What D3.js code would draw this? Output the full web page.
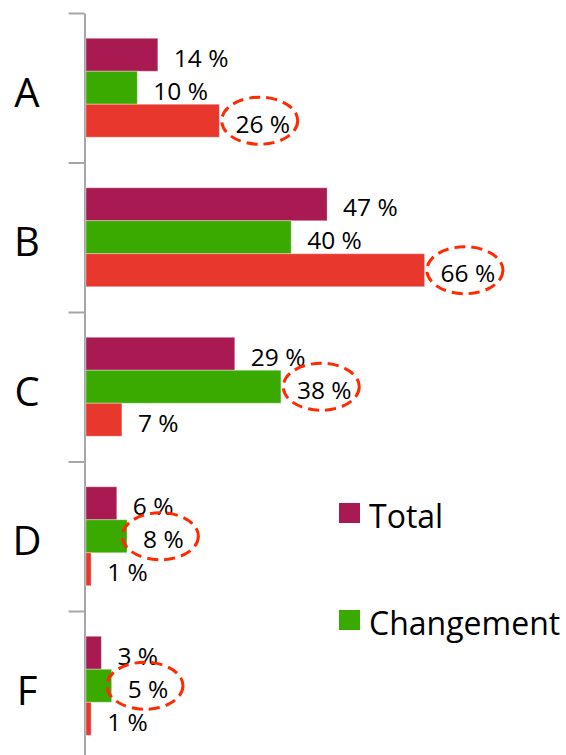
<!DOCTYPE html>
<html>
<head>
<meta charset="utf-8">
<script src="https://d3js.org/d3.v7.min.js"></script>
<style>
  body { margin: 0; background: #ffffff; }
  svg { display: block; font-family: "Open Sans", "Noto Sans", sans-serif; }
  .axis path, .axis line { stroke: #a6a6a6; stroke-width: 2; }
</style>
</head>
<body>
<svg width="566" height="755"></svg>
<script>

// data
var categories = ["A", "B", "C", "D", "F"];
var seriesNames = ["Total", "Changement", "Autre"];
var totalValues = [14, 47, 29, 6, 3];
var changeValues = [10, 40, 38, 8, 5];
var otherValues = [26, 66, 7, 1, 1];
// which series label is circled, per category
var circled = ["Autre", "Autre", "Changement", "Changement", "Changement"];

var colors = { "Total": "#aa1a52", "Changement": "#3aaa00", "Autre": "#e8382d" };

var rows = categories.map(function(c, i) {
    return { cat: c, values: [
        { s: "Total", v: totalValues[i] },
        { s: "Changement", v: changeValues[i] },
        { s: "Autre", v: otherValues[i] }
    ], circ: circled[i] };
});

var svg = d3.select("svg");
var topY = 13, bandStep = 149.5;
var left = 86;

var y = d3.scaleBand().domain(categories)
    .range([topY, topY + bandStep * categories.length])
    .paddingInner(0.338).paddingOuter(0.169);
var inner = d3.scaleBand().domain(seriesNames).range([0, y.bandwidth()]);
var x = d3.scaleLinear().domain([0, 70]).range([left, left + 70 * 5.13]);

// axis with ticks at category boundaries
var bounds = d3.scaleLinear().domain([0, categories.length]).range(y.range());
svg.append("g")
    .attr("class", "axis")
    .attr("transform", "translate(84.5,0)")
    .call(d3.axisLeft(bounds).tickValues(d3.range(categories.length + 1))
        .tickFormat("").tickSize(16).tickSizeOuter(0));

// category labels
svg.append("g").selectAll("text")
    .data(categories)
    .enter().append("text")
    .attr("x", 27)
    .attr("y", function(d) { return y(d) + y.bandwidth() / 2 + 19; })
    .attr("text-anchor", "middle")
    .style("font-size", "40px")
    .attr("fill", "#000")
    .text(function(d) { return d; });

var groups = svg.append("g").selectAll("g")
    .data(rows)
    .enter().append("g")
    .attr("transform", function(d) { return "translate(0," + y(d.cat) + ")"; });

groups.selectAll("rect")
    .data(function(d) { return d.values; })
    .enter().append("rect")
    .attr("x", x(0))
    .attr("y", function(d) { return inner(d.s); })
    .attr("width", function(d) { return x(d.v) - x(0); })
    .attr("height", inner.bandwidth())
    .attr("fill", function(d) { return colors[d.s]; })
    .attr("stroke", "#ffffff")
    .attr("stroke-opacity", 0.35)
    .attr("stroke-width", 1);

groups.each(function(row) {
    var g = d3.select(this);
    row.values.forEach(function(d) {
        var cy = inner(d.s) + inner.bandwidth() / 2;
        var t = g.append("text")
            .attr("x", x(d.v) + 16)
            .attr("y", cy + 12)
            .style("font-size", "24.5px")
            .attr("fill", "#000")
            .text(d.v + " %");
        if (d.s === row.circ) {
            var w = t.node().getComputedTextLength();
            g.append("ellipse")
                .attr("cx", x(d.v) + 16 + w / 2 - 3)
                .attr("cy", cy)
                .attr("rx", 38)
                .attr("ry", 23.5)
                .attr("fill", "none")
                .attr("stroke", "#ff2a00")
                .attr("stroke-width", 3)
                .attr("stroke-dasharray", "11,6");
        }
    });
});

// legend (only the first two series are shown)
var legend = svg.append("g").selectAll("g")
    .data(["Total", "Changement"])
    .enter().append("g")
    .attr("transform", function(d, i) { return "translate(339," + (503 + i * 107) + ")"; });

legend.append("rect")
    .attr("width", 21)
    .attr("height", 20)
    .attr("fill", function(d) { return colors[d]; });

legend.append("text")
    .attr("x", 30)
    .attr("y", 25)
    .style("font-size", "32px")
    .attr("fill", "#000")
    .text(function(d) { return d; });

</script>
</body>
</html>
